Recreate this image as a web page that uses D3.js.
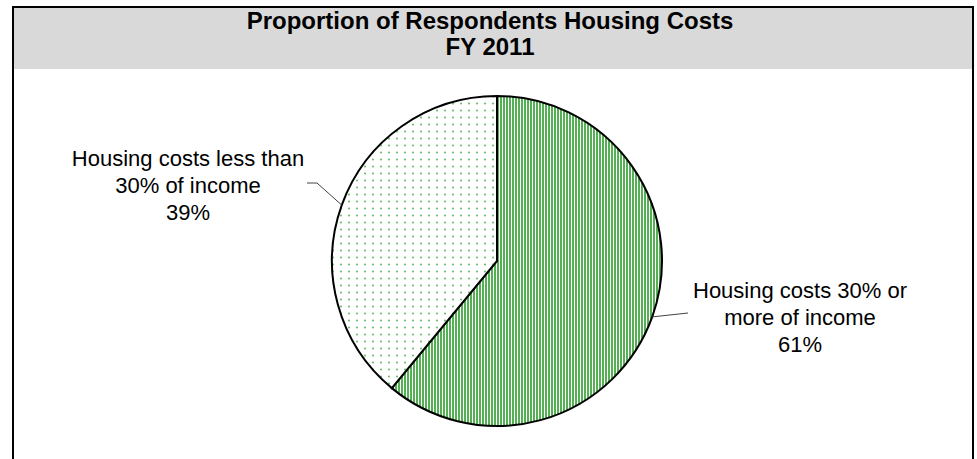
<!DOCTYPE html>
<html>
<head>
<meta charset="utf-8">
<script src="https://cdn.jsdelivr.net/npm/d3@7"></script>
<style>
  body { margin: 0; background: #fff; }
  svg { display: block; font-family: "Liberation Sans", Arial, sans-serif; }
</style>
</head>
<body>
<svg id="viz"></svg>
<script>
// chart data
var categories = ["Housing costs 30% or more of income", "Housing costs less than 30% of income"]
var values = [61, 39]
var labelLines = [
	["Housing costs 30% or", "more of income", "61%"],
	["Housing costs less than", "30% of income", "39%"]
]
var titleLines = ["Proportion of Respondents Housing Costs", "FY 2011"]

var width = 977
var height = 459

var svg = d3.select("#viz")
	.attr("width", width)
	.attr("height", height)

var defs = svg.append("defs")

// narrow vertical stripes
var stripes = defs.append("pattern")
	.attr("id", "stripes")
	.attr("patternUnits", "userSpaceOnUse")
	.attr("width", 3)
	.attr("height", 3)
stripes.append("rect").attr("width", 3).attr("height", 3).attr("fill", "#fff")
stripes.append("rect").attr("width", 2).attr("height", 3).attr("fill", "#55b055")

// small dots
var dotsPat = defs.append("pattern")
	.attr("id", "dots")
	.attr("patternUnits", "userSpaceOnUse")
	.attr("width", 8)
	.attr("height", 7)
dotsPat.append("rect").attr("width", 8).attr("height", 7).attr("fill", "#fff")
dotsPat.append("circle").attr("cx", 4).attr("cy", 3.5).attr("r", 1.1).attr("fill", "#6cc06c")

var fills = ["url(#stripes)", "url(#dots)"]

// frame + title band
svg.append("rect")
	.attr("x", 13).attr("y", 7)
	.attr("width", 960).attr("height", 470)
	.attr("fill", "#fff")
	.attr("stroke", "#000")
	.attr("stroke-width", 2)

svg.append("rect")
	.attr("x", 14).attr("y", 8)
	.attr("width", 958).attr("height", 61)
	.attr("fill", "#d9d9d9")

svg.selectAll(".title")
	.data(titleLines)
	.enter()
	.append("text")
	.attr("class", "title")
	.attr("x", 490)
	.attr("y", (d, i) => 29 + i * 26)
	.attr("text-anchor", "middle")
	.style("font-size", "24px")
	.style("font-weight", "bold")
	.text(d => d)

// pie
var cx = 497, cy = 261, r = 165

var pie = d3.pie().sort(null).value(d => d)
var arc = d3.arc().innerRadius(0).outerRadius(r)

var g = svg.append("g").attr("transform", "translate(" + cx + "," + cy + ")")

var slices = pie(values)

g.selectAll("path")
	.data(slices)
	.enter()
	.append("path")
	.attr("d", arc)
	.attr("fill", (d, i) => fills[i])
	.attr("stroke", "#000")
	.attr("stroke-width", 2)

// leader lines and labels
var labelPos = [
	{ x: 800, y: 298, elbow: null, end: [688 - cx, 313 - cy] },
	{ x: 188, y: 166, elbow: [317 - cx, 183 - cy], end: [307 - cx, 183 - cy] }
]

slices.forEach(function(s, i) {
	var mid = (s.startAngle + s.endAngle) / 2
	var p0 = [r * Math.sin(mid), -r * Math.cos(mid)]
	var pts = [p0]
	if (labelPos[i].elbow) pts.push(labelPos[i].elbow)
	pts.push(labelPos[i].end)

	g.append("path")
		.attr("d", d3.line()(pts))
		.attr("fill", "none")
		.attr("stroke", "#444")
		.attr("stroke-width", 1)

	svg.append("text")
		.attr("text-anchor", "middle")
		.style("font-size", "22px")
		.selectAll("tspan")
		.data(labelLines[i])
		.enter()
		.append("tspan")
		.attr("x", labelPos[i].x)
		.attr("y", (d, j) => labelPos[i].y + j * 27)
		.text(d => d)
})
</script>
</body>
</html>
